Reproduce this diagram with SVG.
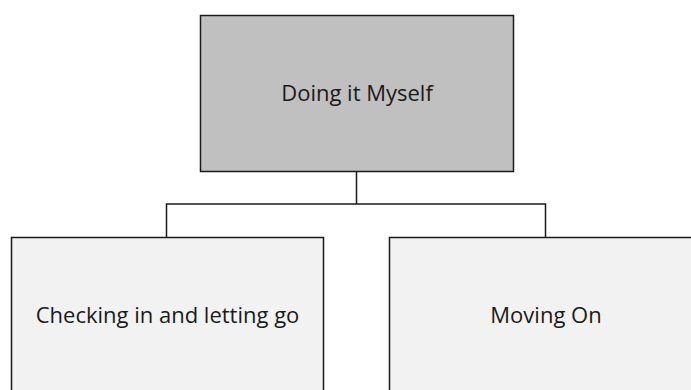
<svg xmlns="http://www.w3.org/2000/svg" width="691" height="390" viewBox="0 0 691 390">
<style>
.box{stroke:#1a1a1a;stroke-width:1.5}
.top{fill:#c0c0c0}
.child{fill:#f2f2f2}
.lbl{font-family:"Open Sans","Liberation Sans",sans-serif;font-size:22px;fill:#1a1a1a;text-anchor:middle}
.conn{fill:none;stroke:#1a1a1a;stroke-width:1.5}
</style>
<rect width="691" height="390" fill="#ffffff"/>
<g id="connectors">
<path class="conn" d="M356.5 172 V204 M166.5 237.5 V204 H545.5 V237.5"/>
</g>
<g id="node-top">
<rect class="box top" x="200.5" y="15.5" width="313" height="156"/>
<text class="lbl" x="357" y="101">Doing it Myself</text>
</g>
<g id="node-left">
<rect class="box child" x="11.5" y="237.5" width="312" height="170"/>
<text class="lbl" x="167.5" y="323">Checking in and letting go</text>
</g>
<g id="node-right">
<rect class="box child" x="389.5" y="237.5" width="312" height="170"/>
<text class="lbl" x="546" y="323">Moving On</text>
</g>
</svg>
